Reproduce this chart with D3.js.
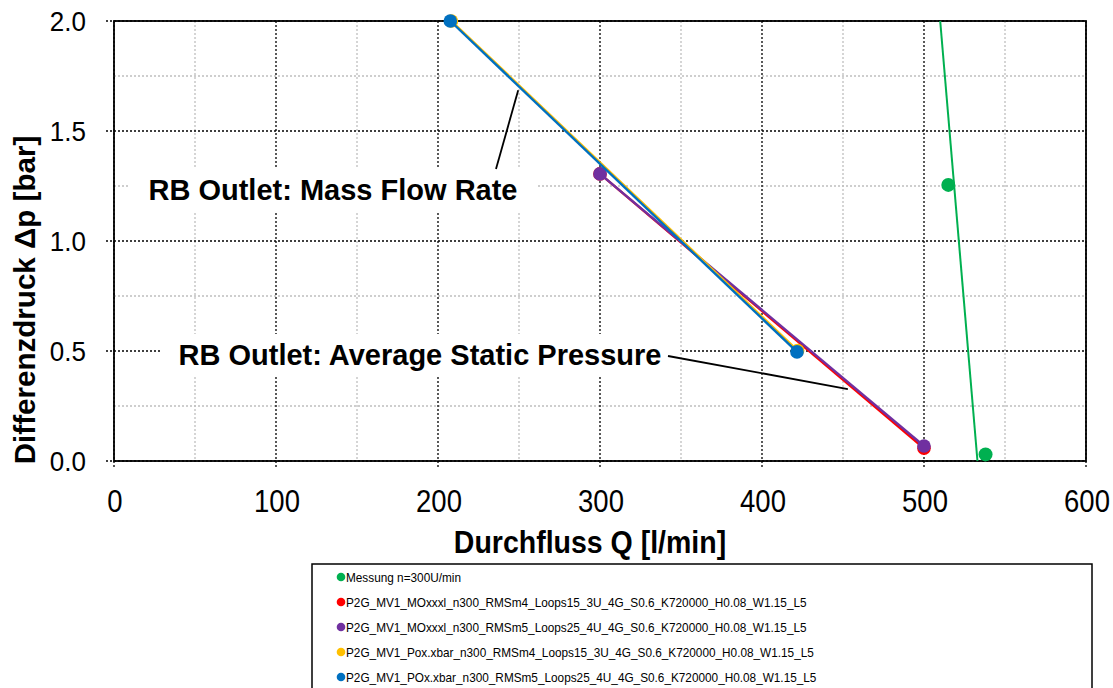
<!DOCTYPE html>
<html>
<head>
<meta charset="utf-8">
<script src="https://cdn.jsdelivr.net/npm/d3@7"></script>
<style>
  html, body { margin: 0; padding: 0; background: #fff; }
  svg { display: block; font-family: "Liberation Sans", Arial, sans-serif; }
</style>
</head>
<body>
<svg id="chart" width="1113" height="688"></svg>
<script>
// Axis ticks
const xMajorTicks = [0, 100, 200, 300, 400, 500, 600];
const xMinorTicks = [50, 150, 250, 350, 450, 550];
const yMajorTicks = [0, 0.5, 1.0, 1.5, 2.0];
const yMinorTicks = [0.25, 0.75, 1.25, 1.75];

// Measurement n=300 U/min: points and its characteristic line
const messungQ = [515, 538];
const messungDp = [1.255, 0.03];
const messungLineQ = [510, 533];
const messungLineDp = [2.0, 0.0];

// Simulation series (Q in l/min, dp in bar)
const redQ = [300, 500];
const redDp = [1.305, 0.058];
const purpleQ = [300, 500];
const purpleDp = [1.305, 0.068];
const yellowQ = [208.3, 422.0];
const yellowDp = [2.0, 0.502];
const blueQ = [207.6, 421.6];
const blueDp = [2.0, 0.496];

const legendLabels = [
  "Messung n=300U/min",
  "P2G_MV1_MOxxxl_n300_RMSm4_Loops15_3U_4G_S0.6_K720000_H0.08_W1.15_L5",
  "P2G_MV1_MOxxxl_n300_RMSm5_Loops25_4U_4G_S0.6_K720000_H0.08_W1.15_L5",
  "P2G_MV1_Pox.xbar_n300_RMSm4_Loops15_3U_4G_S0.6_K720000_H0.08_W1.15_L5",
  "P2G_MV1_POx.xbar_n300_RMSm5_Loops25_4U_4G_S0.6_K720000_H0.08_W1.15_L5"
];
const colors = ["#00B050", "#FF0000", "#7030A0", "#FFC000", "#0070C0"];

// Annotation targets (data coordinates the leader lines point at)
const noteMassFlow = { text: "RB Outlet: Mass Flow Rate", Q: 249.5, dp: 1.685 };
const notePressure = { text: "RB Outlet: Average Static Pressure", Q: 453, dp: 0.327 };

const svg = d3.select("#chart");
const x = d3.scaleLinear().domain([0, 600]).range([114, 1086]);
const y = d3.scaleLinear().domain([0, 2]).range([461, 21]);

const zip = (qs, ps) => qs.map((q, i) => ({ q, p: ps[i] }));
const line = d3.line().x(d => x(d.q)).y(d => y(d.p));

// Minor grid (grey dotted)
const grid = svg.append("g");
grid.selectAll(".vminor").data(xMinorTicks).join("line")
  .attr("x1", d => x(d)).attr("x2", d => x(d))
  .attr("y1", y(2)).attr("y2", y(0))
  .attr("stroke", "#bfbfbf").attr("stroke-width", 1.3).attr("stroke-dasharray", "2,2");
grid.selectAll(".hminor").data(yMinorTicks).join("line")
  .attr("x1", x(0)).attr("x2", x(600))
  .attr("y1", d => y(d)).attr("y2", d => y(d))
  .attr("stroke", "#bfbfbf").attr("stroke-width", 1.3).attr("stroke-dasharray", "2,2");
// Major grid (black dotted), extended outward as tick marks
grid.selectAll(".vmajor").data(xMajorTicks).join("line")
  .attr("x1", d => x(d)).attr("x2", d => x(d))
  .attr("y1", y(2)).attr("y2", y(0) + 7)
  .attr("stroke", "#000").attr("stroke-width", 1.3).attr("stroke-dasharray", "2,2");
grid.selectAll(".hmajor").data(yMajorTicks).join("line")
  .attr("x1", x(0) - 8).attr("x2", x(600))
  .attr("y1", d => y(d)).attr("y2", d => y(d))
  .attr("stroke", "#000").attr("stroke-width", 1.3).attr("stroke-dasharray", "2,2");

// Plot frame
svg.append("rect")
  .attr("x", x(0)).attr("y", y(2))
  .attr("width", x(600) - x(0)).attr("height", y(0) - y(2))
  .attr("fill", "none").attr("stroke", "#000").attr("stroke-width", 1.8);

// Tick labels (slightly tall glyphs)
const fmtX = d3.format("d"), fmtY = d3.format(".1f");
svg.append("g").selectAll("text").data(xMajorTicks).join("text")
  .attr("transform", d => `translate(${x(d) + 1},${y(0) + 51}) scale(1,1.12)`)
  .attr("text-anchor", "middle").attr("font-size", 27.5).text(fmtX);
svg.append("g").selectAll("text").data(yMajorTicks).join("text")
  .attr("transform", d => `translate(${x(0) - 28},${y(d) + 10}) scale(1,1.08)`)
  .attr("text-anchor", "end").attr("font-size", 26).text(fmtY);

// Series lines
const plot = svg.append("g");
plot.append("path").datum(zip(messungLineQ, messungLineDp)).attr("d", line)
  .attr("fill", "none").attr("stroke", colors[0]).attr("stroke-width", 2);
const sims = [
  { q: redQ, p: redDp, c: colors[1] },
  { q: purpleQ, p: purpleDp, c: colors[2] },
  { q: yellowQ, p: yellowDp, c: colors[3] },
  { q: blueQ, p: blueDp, c: colors[4] }
];
// Measurement markers
plot.selectAll(".m").data(zip(messungQ, messungDp)).join("circle")
  .attr("cx", d => x(d.q)).attr("cy", d => y(d.p)).attr("r", 7).attr("fill", colors[0]);
sims.forEach(s => {
  const pts = zip(s.q, s.p);
  plot.append("path").datum(pts).attr("d", line)
    .attr("fill", "none").attr("stroke", s.c).attr("stroke-width", 2.4);
  plot.selectAll(null).data(pts).join("circle")
    .attr("cx", d => x(d.q)).attr("cy", d => y(d.p)).attr("r", 6.8).attr("fill", s.c);
});

// Annotations with white text boxes and leader lines
function annotate(note, cx, cy, w, h, lx, ly) {
  const g = svg.append("g");
  g.append("rect").attr("x", cx - w / 2).attr("y", cy - h / 2).attr("width", w).attr("height", h).attr("fill", "#fff");
  g.append("text").attr("x", cx).attr("y", cy + 10).attr("text-anchor", "middle")
    .attr("font-size", 29).attr("font-weight", "bold").text(note.text);
  g.append("line").attr("x1", lx).attr("y1", ly).attr("x2", x(note.Q)).attr("y2", y(note.dp))
    .attr("stroke", "#000").attr("stroke-width", 1.8);
}
annotate(noteMassFlow, 333, 190, 410, 42, 496, 169);
annotate(notePressure, 420, 355, 520, 42, 668, 356);

// Axis titles
svg.append("text").attr("transform", "translate(590,553) scale(1,1.08)").attr("text-anchor", "middle")
  .attr("font-size", 28.5).attr("font-weight", "bold").text("Durchfluss Q [l/min]");
svg.append("text").attr("transform", "translate(35,300) rotate(-90) scale(1.02,1)").attr("text-anchor", "middle")
  .attr("font-size", 29).attr("font-weight", "bold").text("Differenzdruck Δp [bar]");

// Legend
const lg = svg.append("g");
lg.append("rect").attr("x", 312).attr("y", 564).attr("width", 780).attr("height", 140)
  .attr("fill", "#fff").attr("stroke", "#000").attr("stroke-width", 1.5);
legendLabels.forEach((t, i) => {
  const ry = 577 + i * 25;
  lg.append("circle").attr("cx", 341).attr("cy", ry).attr("r", 4.3).attr("fill", colors[i]);
  lg.append("text").attr("transform", `translate(346,${ry + 4.5}) scale(1,1.08)`)
    .attr("font-size", 11.8).text(t);
});
</script>
</body>
</html>
